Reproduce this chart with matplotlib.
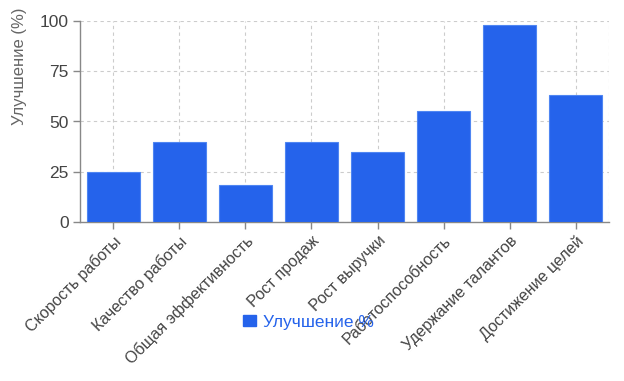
import matplotlib
matplotlib.use("Agg")
import matplotlib.pyplot as plt
from matplotlib.patches import Patch

categories = ["Скорость работы", "Качество работы", "Общая эффективность", "Рост продаж",
              "Рост выручки", "Работоспособность", "Удержание талантов", "Достижение целей"]
values = [25, 40, 18.5, 40, 35, 55, 98, 63]
series_name = "Улучшение %"
y_ticks = [0, 25, 50, 75, 100]

plt.rcParams['font.family'] = ['Liberation Sans', 'DejaVu Sans']

fig = plt.figure(figsize=(6.24, 3.81), dpi=100)
ax = fig.add_axes([80/624, 1-222/381, (609-80)/624, (222-21)/381])

x = list(range(len(categories)))
ax.bar(x, values, width=0.8, color="#2563EB", edgecolor="#4f86f2", linewidth=0.8, zorder=3)

ax.set_xlim(-0.5, len(categories) - 0.5)
ax.set_ylim(0, 100)
ax.set_yticks(y_ticks)
ax.set_xticks(x)
ax.set_xticklabels(categories, rotation=45, ha="right", va="top", rotation_mode="anchor",
                   fontsize=11.5)
ax.tick_params(axis="y", labelsize=12.5, colors="#888888", labelcolor="#444444", length=5, width=1, pad=3)
ax.tick_params(axis="x", colors="#888888", labelcolor="#444444", length=5, width=1, pad=3)

ax.grid(True, color="#cccccc", linestyle=(0, (3, 3)), linewidth=0.8, zorder=0)
ax.axvline(len(categories) - 0.5, color="#cccccc", linestyle=(0, (3, 3)), linewidth=0.8, zorder=0)
for s in ["top", "right"]:
    ax.spines[s].set_visible(False)
for s in ["left", "bottom"]:
    ax.spines[s].set_color("#888888")
    ax.spines[s].set_linewidth(1)

ax.set_ylabel("Улучшение (%)", fontsize=12, color="#666666")
ax.yaxis.set_label_coords((27 - 80) / 529, (222 - 66) / 201)

handle = Patch(facecolor="#2563EB", edgecolor="#2563EB")
leg = fig.legend([handle], [series_name], loc="center", bbox_to_anchor=(308/624, 1-322/381),
                 frameon=False, fontsize=12.5, handlelength=0.8, handleheight=0.6,
                 handletextpad=0.35, labelcolor="#2563EB")

fig.savefig("out.png", dpi=100)
